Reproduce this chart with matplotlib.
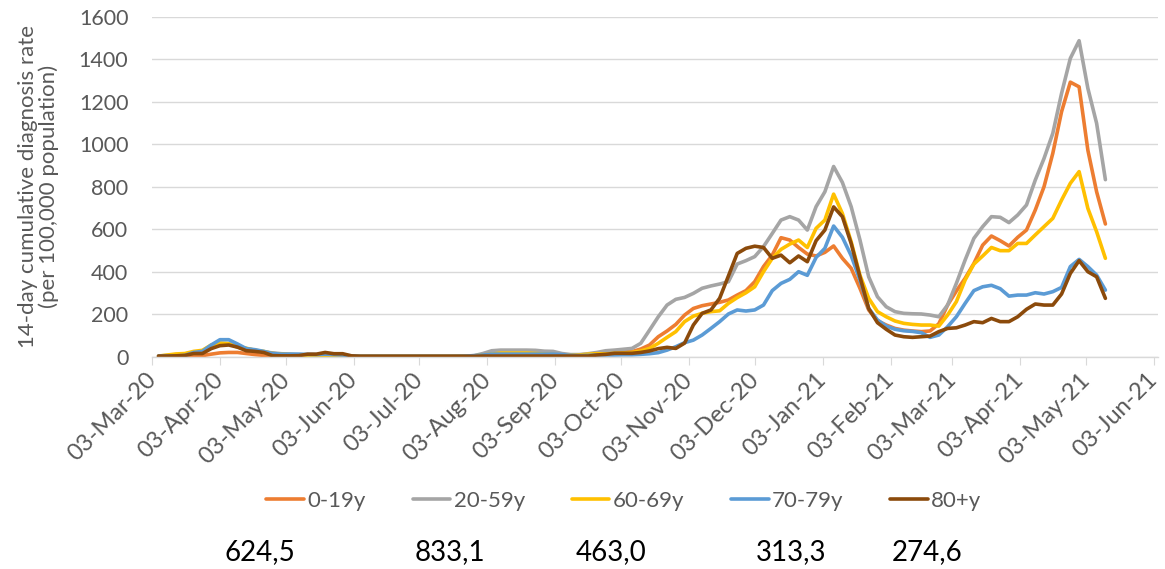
import matplotlib
matplotlib.use("Agg")
import matplotlib.pyplot as plt
import matplotlib.dates as mdates
import matplotlib.transforms as mtransforms
import pandas as pd

plt.rcParams['font.family'] = ['Lato', 'DejaVu Sans']

# Sampling dates (every 4 days, 06-Mar-2020 .. 12-May-2021)
start_date = "2020-03-06"
step = "4D"

series_names = ["0-19y", "20-59y", "60-69y", "70-79y", "80+y"]
series_colors = ["#ED7D31", "#A5A5A5", "#FFC000", "#5B9BD5", "#8B4A0B"]

rate_0_19 = [
    1, 1, 2, 2, 3, 5, 12, 18, 20, 20,
    15, 10, 6, 4, 3, 2, 2, 2, 2, 2,
    2, 1, 1, 1, 1, 1, 1, 1, 1, 1,
    1, 1, 1, 1, 2, 2, 3, 4, 4, 5,
    5, 5, 5, 5, 4, 4, 4, 4, 5, 10,
    15, 19, 20, 22, 24, 36, 55, 94, 121, 152,
    196, 227, 240, 248, 256, 267, 290, 311, 353, 424,
    478, 560, 549, 514, 483, 474, 491, 521, 463, 416,
    322, 220, 169, 149, 133, 125, 121, 118, 121, 155,
    243, 309, 369, 439, 525, 568, 546, 521, 562, 596,
    690, 800, 957, 1153, 1292, 1270, 972, 776, 624.5,
]
rate_20_59 = [
    3, 6, 10, 13, 20, 25, 45, 58, 60, 50,
    38, 30, 22, 18, 14, 12, 10, 8, 7, 6,
    5, 4, 3, 3, 3, 3, 2, 2, 2, 2,
    2, 2, 2, 2, 3, 3, 5, 15, 28, 31,
    31, 31, 31, 30, 26, 25, 15, 10, 10, 14,
    20, 28, 31, 35, 39, 63, 125, 188, 243, 270,
    279, 298, 322, 333, 342, 353, 436, 452, 471, 518,
    580, 643, 659, 643, 596, 706, 776, 895, 820, 706,
    550, 376, 282, 235, 212, 204, 202, 201, 196, 188,
    243, 345, 455, 557, 612, 659, 656, 631, 667, 714,
    831, 933, 1051, 1239, 1404, 1487, 1263, 1098, 833.1,
]
rate_60_69 = [
    3, 8, 13, 15, 25, 30, 55, 65, 62, 45,
    40, 30, 25, 15, 12, 10, 8, 6, 5, 4,
    4, 3, 2, 2, 2, 2, 2, 2, 2, 2,
    2, 2, 2, 2, 2, 3, 4, 8, 12, 17,
    17, 17, 17, 15, 12, 10, 8, 6, 8, 12,
    14, 13, 16, 17, 20, 27, 39, 63, 91, 118,
    165, 191, 204, 212, 216, 251, 278, 301, 329, 400,
    463, 505, 530, 549, 514, 604, 643, 765, 674, 541,
    384, 275, 212, 188, 168, 157, 152, 149, 149, 144,
    196, 259, 361, 436, 474, 514, 499, 499, 533, 533,
    573, 612, 651, 737, 816, 871, 698, 588, 463.0,
]
rate_70_79 = [
    3, 3, 4, 6, 20, 25, 55, 80, 80, 60,
    38, 33, 25, 15, 12, 12, 12, 11, 10, 12,
    10, 8, 4, 2, 2, 2, 2, 2, 2, 2,
    2, 2, 2, 2, 2, 3, 5, 8, 12, 12,
    12, 12, 12, 12, 12, 12, 10, 6, 5, 6,
    8, 8, 8, 9, 9, 11, 14, 19, 31, 47,
    66, 78, 102, 133, 165, 201, 220, 215, 220, 243,
    311, 345, 364, 400, 383, 467, 510, 615, 562, 476,
    361, 227, 173, 144, 129, 122, 119, 113, 91, 102,
    141, 188, 251, 311, 329, 336, 320, 285, 290, 290,
    301, 295, 306, 326, 424, 458, 424, 384, 313.3,
]
rate_80p = [
    3, 3, 4, 6, 15, 15, 38, 52, 55, 45,
    28, 25, 20, 5, 4, 4, 5, 12, 12, 20,
    14, 14, 4, 2, 2, 2, 2, 2, 2, 2,
    2, 2, 2, 2, 2, 2, 2, 3, 3, 3,
    3, 3, 3, 3, 3, 3, 3, 3, 3, 3,
    8, 11, 16, 16, 16, 20, 27, 38, 44, 39,
    64, 149, 204, 220, 275, 380, 486, 510, 520, 514,
    463, 478, 442, 474, 447, 546, 596, 705, 659, 533,
    376, 227, 160, 129, 102, 94, 91, 94, 97, 118,
    133, 136, 149, 165, 160, 180, 165, 165, 188, 223,
    248, 243, 243, 295, 392, 452, 400, 376, 274.6,
]

latest_values = ["624,5", "833,1", "463,0", "313,3", "274,6"]

all_series = [rate_0_19, rate_20_59, rate_60_69, rate_70_79, rate_80p]
dates = pd.date_range(start=start_date, periods=len(rate_0_19), freq=step)

W, H = 1165, 569
fig = plt.figure(figsize=(W / 100, H / 100), dpi=100)
ax = fig.add_axes([152 / W, 1 - 356.7 / H, (1158 - 152) / W, 340 / H])

for vals, name, col in zip(all_series, series_names, series_colors):
    ax.plot(dates, vals, color=col, lw=2.6, label=name, solid_joinstyle='round',
            solid_capstyle='round')

ax.set_ylim(0, 1600)
ax.set_yticks(range(0, 1601, 200))
ax.set_xlim(pd.Timestamp("2020-03-03"), pd.Timestamp("2021-06-05"))
ax.xaxis.set_major_locator(mdates.MonthLocator(bymonthday=3))
ax.xaxis.set_major_formatter(mdates.DateFormatter("%d-%b-%y"))

ax.grid(axis='y', color='#D9D9D9', lw=1.0)
ax.set_axisbelow(True)
for s in ['top', 'right', 'left']:
    ax.spines[s].set_visible(False)
ax.spines['bottom'].set_color('#D9D9D9')
ax.spines['bottom'].set_linewidth(1.0)

ax.tick_params(axis='y', length=0, labelsize=15.5, labelcolor='#595959', pad=17)
ax.tick_params(axis='x', length=6, color='#D9D9D9', labelsize=17,
               labelcolor='#595959', pad=3)
shift = mtransforms.ScaledTranslation(-0.07, 0.0, fig.dpi_scale_trans)
for lab in ax.get_xticklabels():
    lab.set_rotation(45)
    lab.set_ha('right')
    lab.set_rotation_mode('anchor')
    lab.set_transform(lab.get_transform() + shift)

ax.set_ylabel("14-day cumulative diagnosis rate\n(per 100,000 population)",
              fontsize=16, color='#595959', labelpad=14, linespacing=1.05)

fig.legend(loc='center', bbox_to_anchor=(624 / W, 1 - 501 / H), ncol=5,
           frameon=False, fontsize=16, labelcolor='#595959',
           handlelength=1.7, handletextpad=0.15, columnspacing=2.1)

num_x = [260, 450, 611, 791, 927]
for xv, txt in zip(num_x, latest_values):
    fig.text(xv / W, 1 - 552 / H, txt, ha='center', va='center', fontsize=20,
             color='black')

fig.savefig("out.png", dpi=100)
